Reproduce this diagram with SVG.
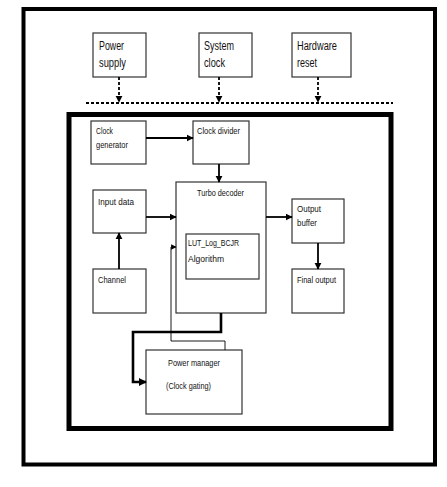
<svg xmlns="http://www.w3.org/2000/svg" width="447" height="487" viewBox="0 0 447 487">
<style>
.box{fill:#fff;stroke:#333;stroke-width:1.2}
.t{font-family:"Liberation Sans",Arial,sans-serif;fill:#111}
.big{font-size:12.5px}
.sm{font-size:9.5px}
.c{fill:none;stroke:#000;stroke-width:1.8}
.dash{fill:none;stroke:#000;stroke-width:1.8;stroke-dasharray:3 2}
</style>
<defs>
<marker id="ah" viewBox="0 0 10 10" refX="9" refY="5" markerWidth="4" markerHeight="4" orient="auto" markerUnits="strokeWidth"><path d="M0,0L10,5L0,10z" fill="#000"/></marker>
<marker id="ahs" viewBox="0 0 10 10" refX="9" refY="5" markerWidth="3.2" markerHeight="3.2" orient="auto" markerUnits="strokeWidth"><path d="M0,0L10,5L0,10z" fill="#000"/></marker>
<marker id="aht" viewBox="0 0 10 10" refX="9" refY="5" markerWidth="6" markerHeight="6" orient="auto" markerUnits="strokeWidth"><path d="M0,0L10,5L0,10z" fill="#000"/></marker>
</defs>
<rect width="447" height="487" fill="#fff"/>
<rect x="23.5" y="9" width="411.5" height="455.5" fill="none" stroke="#000" stroke-width="4"/>
<rect x="69" y="114.5" width="322" height="314" fill="none" stroke="#000" stroke-width="5"/>

<g id="power-supply"><rect class="box" x="93" y="33" width="53" height="44"/><text class="t big" x="99" y="50" textLength="25" lengthAdjust="spacingAndGlyphs">Power</text><text class="t big" x="99" y="67" textLength="27" lengthAdjust="spacingAndGlyphs">supply</text></g>
<g id="system-clock"><rect class="box" x="199" y="33" width="53" height="44"/><text class="t big" x="204" y="50" textLength="30" lengthAdjust="spacingAndGlyphs">System</text><text class="t big" x="204" y="67" textLength="21" lengthAdjust="spacingAndGlyphs">clock</text></g>
<g id="hardware-reset"><rect class="box" x="292" y="33" width="59" height="44"/><text class="t big" x="297" y="50" textLength="40" lengthAdjust="spacingAndGlyphs">Hardware</text><text class="t big" x="297" y="67" textLength="20" lengthAdjust="spacingAndGlyphs">reset</text></g>

<g id="clock-generator"><rect class="box" x="91" y="121" width="55" height="43"/><text class="t sm" x="96" y="134" textLength="17" lengthAdjust="spacingAndGlyphs">Clock</text><text class="t sm" x="96" y="148" textLength="32" lengthAdjust="spacingAndGlyphs">generator</text></g>
<g id="clock-divider"><rect class="box" x="193" y="121" width="56" height="43"/><text class="t sm" x="197" y="134" textLength="43" lengthAdjust="spacingAndGlyphs">Clock divider</text></g>
<g id="turbo-decoder"><rect class="box" x="176" y="182" width="90" height="131"/><text class="t sm" x="197" y="196" textLength="47" lengthAdjust="spacingAndGlyphs">Turbo decoder</text></g>
<g id="lut"><rect class="box" x="186" y="234" width="73" height="45"/><text class="t sm" x="188" y="246" textLength="51" lengthAdjust="spacingAndGlyphs">LUT_Log_BCJR</text><text class="t sm" x="188" y="262" textLength="36" lengthAdjust="spacingAndGlyphs">Algorithm</text></g>
<g id="input-data"><rect class="box" x="93" y="190" width="53" height="43"/><text class="t sm" x="98" y="205" textLength="36" lengthAdjust="spacingAndGlyphs">Input data</text></g>
<g id="channel"><rect class="box" x="93" y="269" width="53" height="44"/><text class="t sm" x="98" y="283" textLength="28" lengthAdjust="spacingAndGlyphs">Channel</text></g>
<g id="output-buffer"><rect class="box" x="292" y="199" width="52" height="44"/><text class="t sm" x="297" y="212" textLength="24" lengthAdjust="spacingAndGlyphs">Output</text><text class="t sm" x="297" y="226" textLength="20" lengthAdjust="spacingAndGlyphs">buffer</text></g>
<g id="final-output"><rect class="box" x="292" y="269" width="52" height="44"/><text class="t sm" x="297" y="283" textLength="39" lengthAdjust="spacingAndGlyphs">Final output</text></g>
<g id="power-manager"><rect class="box" x="146" y="350" width="96" height="64"/><text class="t sm" x="168" y="366" textLength="52" lengthAdjust="spacingAndGlyphs">Power manager</text><text class="t sm" x="166" y="389" textLength="45" lengthAdjust="spacingAndGlyphs">(Clock gating)</text></g>

<g id="connectors">
<path class="dash" d="M86,103H393"/>
<path class="dash" d="M119,77V102" marker-end="url(#ah)"/>
<path class="dash" d="M219,77V102" marker-end="url(#ah)"/>
<path class="dash" d="M318,77V102" marker-end="url(#ah)"/>
<path class="c" d="M146,138H193" marker-end="url(#ah)"/>
<path class="c" d="M219,164V182" marker-end="url(#ah)"/>
<path class="c" d="M146,217H176" marker-end="url(#ah)"/>
<path class="c" d="M119,269V233" marker-end="url(#ah)"/>
<path class="c" d="M266,217H292" marker-end="url(#ah)"/>
<path class="c" d="M318,243V269" marker-end="url(#ah)"/>
<path class="c" style="stroke-width:2.6" d="M221,313V332H133V382H146" marker-end="url(#ahs)"/>
<path class="c" style="stroke-width:0.9" d="M225,350V341H171V247H176" marker-end="url(#aht)"/>
</g>
</svg>
